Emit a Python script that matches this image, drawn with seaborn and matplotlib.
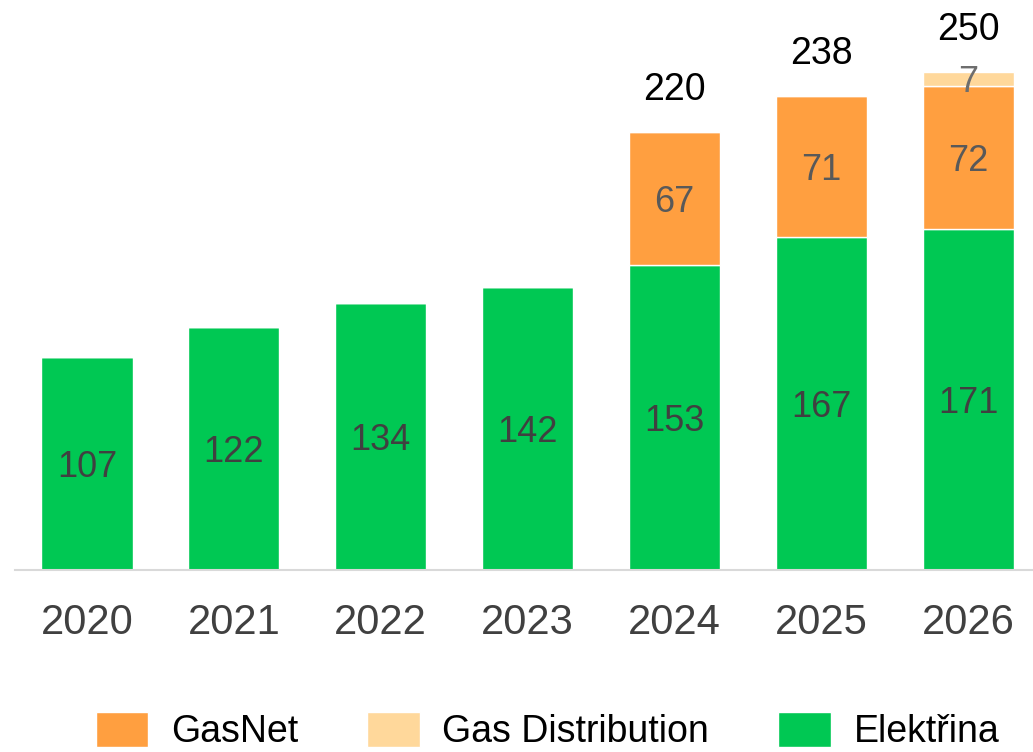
import numpy as np
import pandas as pd
import matplotlib
matplotlib.use("Agg")
import matplotlib.pyplot as plt
import seaborn as sns
from matplotlib.patches import Patch

years = ["2020", "2021", "2022", "2023", "2024", "2025", "2026"]
elektrina = [107, 122, 134, 142, 153, 167, 171]
gasnet = [0, 0, 0, 0, 67, 71, 72]
gas_distribution = [0, 0, 0, 0, 0, 0, 7]
totals = [None, None, None, None, 220, 238, 250]

GREEN = "#00C853"
ORANGE = "#FF9F40"
LIGHT = "#FFD89B"

sns.set_theme(style="white")
plt.rcParams["font.family"] = ["Liberation Sans", "DejaVu Sans"]

df = pd.DataFrame({
    "year": years,
    "Elektřina": elektrina,
    "GasNet": gasnet,
    "Gas Distribution": gas_distribution,
})

fig = plt.figure(figsize=(10.33, 7.52), dpi=100)
ax = fig.add_axes([15 / 1033, 182 / 752, 1018 / 1033, 570 / 752])

bar_w = 0.62
bottom_gasnet = np.array(elektrina)
bottom_dist = bottom_gasnet + np.array(gasnet)

sns.barplot(data=df, x="year", y="Elektřina", color=GREEN, width=bar_w,
            saturation=1, ax=ax)
sns.barplot(data=df, x="year", y="GasNet", color=ORANGE, width=bar_w,
            saturation=1, ax=ax, bottom=bottom_gasnet)
sns.barplot(data=df, x="year", y="Gas Distribution", color=LIGHT, width=bar_w,
            saturation=1, ax=ax, bottom=bottom_dist)

# segment labels, centred on each segment
for i in range(len(years)):
    e, g, d = elektrina[i], gasnet[i], gas_distribution[i]
    ax.text(i, e / 2, str(e), ha="center", va="center_baseline", fontsize=26, color="#404040")
    if g:
        ax.text(i, e + g / 2, str(g), ha="center", va="center_baseline", fontsize=26, color="#595959")
    if d:
        ax.text(i, e + g + d / 2, str(d), ha="center", va="center_baseline", fontsize=26, color="#6E6E6E")
    if totals[i] is not None:
        ax.annotate(str(totals[i]), (i, e + g + d), xytext=(0, 17),
                    textcoords="offset points", ha="center", va="bottom",
                    fontsize=27, color="black")

ax.set_xlim(-0.49, 6.44)
ax.set_ylim(0, 286)
ax.set_xlabel("")
ax.set_ylabel("")
ax.set_yticks([])
ax.tick_params(axis="x", labelsize=30, colors="#404040", length=0, pad=24)
for s in ["top", "right", "left"]:
    ax.spines[s].set_visible(False)
ax.spines["bottom"].set_color("#D9D9D9")
ax.spines["bottom"].set_linewidth(1.5)
ax.set_facecolor("none")

handles = [Patch(facecolor=ORANGE, label="GasNet"),
           Patch(facecolor=LIGHT, label="Gas Distribution"),
           Patch(facecolor=GREEN, label="Elektřina")]
fig.legend(handles=handles, loc="center", bbox_to_anchor=(0.53, 0.028), ncol=3,
           frameon=False, fontsize=27, labelcolor="black", handlelength=1.4,
           handleheight=1.07, handletextpad=0.6, columnspacing=1.85)

fig.savefig("out.png", dpi=100)
